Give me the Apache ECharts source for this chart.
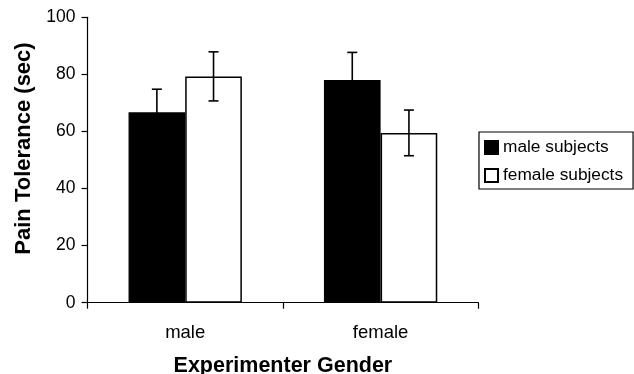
<!DOCTYPE html>
<html><head><meta charset="utf-8">
<script src="https://cdn.jsdelivr.net/npm/echarts@6/dist/echarts.min.js"></script>
<style>html,body{margin:0;padding:0;background:#fff}#c{width:634px;height:374px}</style>
</head><body><div id="c"></div>
<script>
const categories = ['male', 'female'];
const seriesNames = ['male subjects', 'female subjects'];
const maleSubjects = [66.7, 78.0];
const femaleSubjects = [79.3, 59.5];
const maleSubjectsErr = [8.1, 9.7];
const femaleSubjectsErr = [8.6, 8.0];
const yTicks = [0, 20, 40, 60, 80, 100];

const FONT = 'Liberation Sans, Arial, sans-serif';
const CAT_GAP = 0.42;

function errSeries(vals, errs, side) {
  return {
    type: 'custom',
    silent: true,
    z: 5,
    data: vals.map((v, i) => [i, v - errs[i], v + errs[i]]),
    renderItem: function (params, api) {
      const band = api.size([1, 0])[0];
      const bw = band * (1 - CAT_GAP) / 2;
      const c = api.coord([api.value(0), 0]);
      const x = c[0] + side * bw / 2;
      const lo = api.coord([api.value(0), api.value(1)])[1];
      const hi = api.coord([api.value(0), api.value(2)])[1];
      const cap = 5;
      const st = { stroke: '#000', lineWidth: 1.6 };
      return {
        type: 'group',
        children: [
          { type: 'line', shape: { x1: x, y1: lo, x2: x, y2: hi }, style: st },
          { type: 'line', shape: { x1: x - cap, y1: hi, x2: x + cap, y2: hi }, style: st },
          { type: 'line', shape: { x1: x - cap, y1: lo, x2: x + cap, y2: lo }, style: st }
        ]
      };
    }
  };
}

const chart = echarts.init(document.getElementById('c'), null, { renderer: 'canvas' });
chart.setOption({
  animation: false,
  backgroundColor: '#fff',
  grid: { left: 87.5, right: 155.7, top: 17.3, bottom: 71.3, containLabel: false, outerBoundsMode: 'none' },
  legend: {
    orient: 'vertical',
    left: 479, top: 132,
    padding: [7, 10, 5, 5],
    itemGap: 11,
    itemWidth: 13, itemHeight: 13,
    borderColor: '#000', borderWidth: 1.2,
    data: seriesNames.map(n => ({ name: n, icon: 'rect' })),
    textStyle: { fontFamily: FONT, fontSize: 17.3, color: '#000', padding: [0, 0, 0, 0] }
  },
  xAxis: {
    type: 'category',
    data: categories,
    name: 'Experimenter Gender',
    nameLocation: 'middle',
    nameGap: 52,
    nameTextStyle: { fontFamily: FONT, fontSize: 21.5, fontWeight: 'bold', color: '#000' },
    axisLine: { lineStyle: { color: '#000', width: 1.2 } },
    axisTick: { show: true, length: 6, lineStyle: { color: '#000', width: 1.2 } },
    axisLabel: { fontFamily: FONT, fontSize: 18.5, color: '#000', margin: 21 },
    splitLine: { show: false }
  },
  yAxis: {
    type: 'value',
    min: 0, max: 100, interval: 20,
    name: 'Pain Tolerance (sec)',
    nameLocation: 'middle',
    nameGap: 53,
    nameRotate: 90,
    nameTextStyle: { fontFamily: FONT, fontSize: 22, fontWeight: 'bold', color: '#000', padding: [0, 0, 0, 23] },
    axisLine: { show: true, lineStyle: { color: '#000', width: 1.2 } },
    axisTick: { show: true, length: 6, lineStyle: { color: '#000', width: 1.2 } },
    axisLabel: { fontFamily: FONT, fontSize: 17.5, color: '#000', margin: 12,
      formatter: v => (yTicks.indexOf(v) >= 0 ? String(v) : '') },
    splitLine: { show: false }
  },
  series: [
    {
      name: seriesNames[0], type: 'bar', data: maleSubjects,
      barGap: '0%', barCategoryGap: (CAT_GAP * 100) + '%',
      itemStyle: { color: '#000', borderColor: '#000', borderWidth: 1.2 }
    },
    {
      name: seriesNames[1], type: 'bar', data: femaleSubjects,
      barGap: '0%', barCategoryGap: (CAT_GAP * 100) + '%',
      itemStyle: { color: '#fff', borderColor: '#000', borderWidth: 1.5 }
    },
    errSeries(maleSubjects, maleSubjectsErr, -1),
    errSeries(femaleSubjects, femaleSubjectsErr, 1)
  ]
});
</script></body></html>
